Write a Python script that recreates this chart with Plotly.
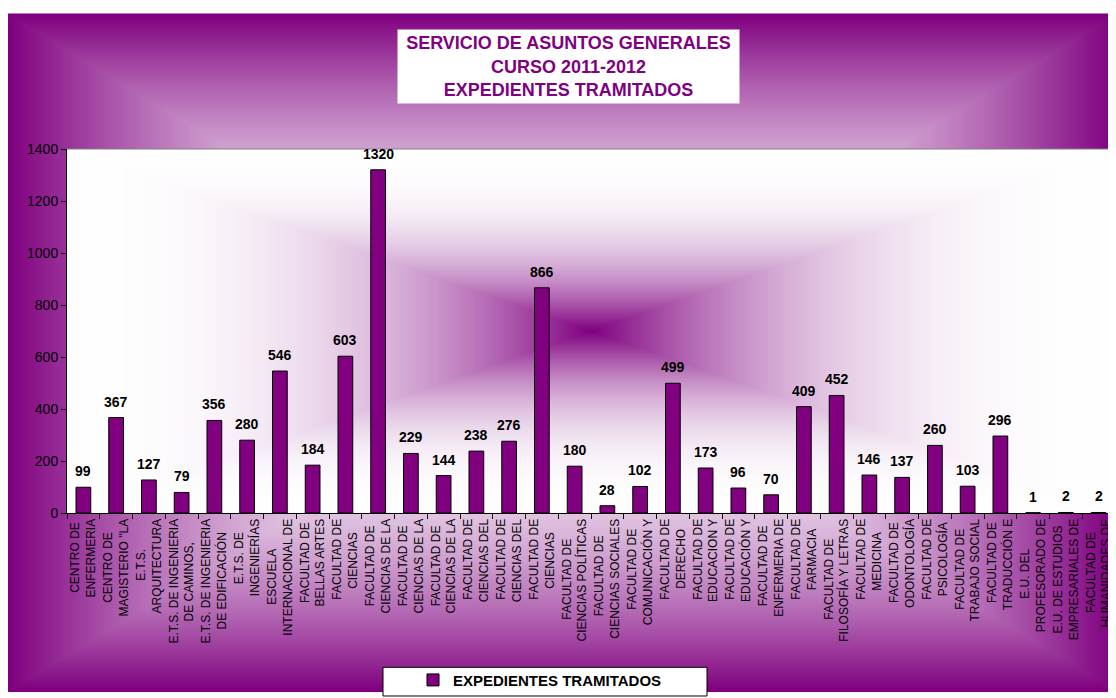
import base64
import struct
import zlib

import numpy as np
import plotly.graph_objects as go

categories = [
    'CENTRO DE<br>ENFERMERIA', 'CENTRO DE<br>MAGISTERIO "LA', 'E.T.S.<br>ARQUITECTURA',
    'E.T.S. DE INGENIERIA<br>DE CAMINOS,', 'E.T.S. DE INGENIERIA<br>DE EDIFICACIÓN',
    'E.T.S. DE<br>INGENIERÍAS', 'ESCUELA<br>INTERNACIONAL DE', 'FACULTAD DE<br>BELLAS ARTES',
    'FACULTAD DE<br>CIENCIAS', 'FACULTAD DE<br>CIENCIAS DE LA ', 'FACULTAD DE<br>CIENCIAS DE LA  ',
    'FACULTAD DE<br>CIENCIAS DE LA   ', 'FACULTAD DE<br>CIENCIAS DEL', 'FACULTAD DE<br>CIENCIAS DEL ',
    'FACULTAD DE<br>CIENCIAS ', 'FACULTAD DE<br>CIENCIAS POLÍTICAS', 'FACULTAD DE<br>CIENCIAS SOCIALES',
    'FACULTAD DE<br>COMUNICACIÓN Y', 'FACULTAD DE<br>DERECHO', 'FACULTAD DE<br>EDUCACION Y',
    'FACULTAD DE<br>EDUCACIÓN Y', 'FACULTAD DE<br>ENFERMERIA DE', 'FACULTAD DE<br>FARMACIA',
    'FACULTAD DE<br>FILOSOFÍA Y LETRAS', 'FACULTAD DE<br>MEDICINA', 'FACULTAD DE<br>ODONTOLOGÍA',
    'FACULTAD DE<br>PSICOLOGÍA', 'FACULTAD DE<br>TRABAJO SOCIAL', 'FACULTAD DE<br>TRADUCCIÓN E',
    'E.U. DEL<br>PROFESORADO DE', 'E.U. DE ESTUDIOS<br>EMPRESARIALES DE', 'FACULTAD DE<br>HUMANIDADES DE',
]
expedientes = [99, 367, 127, 79, 356, 280, 546, 184, 603, 1320, 229, 144, 238, 276, 866, 180,
               28, 102, 499, 173, 96, 70, 409, 452, 146, 137, 260, 103, 296, 1, 2, 2]

# page is drawn 8px in from the window corner (body margin)
W, H = 1108, 690
L, T, R, B = 59, 141, 1107, 509  # plot area in figure pixels
PW, PH = R - L, B - T
PURPLE = np.array([128, 0, 128], dtype=float)
WHITE = np.array([255, 255, 255], dtype=float)
FONT = "Arial, Liberation Sans, sans-serif"

# rough Arial widths (em) so that the shorter label line can be centred
CHAR_W = {'I': .278, 'Í': .278, 'J': .5, 'L': .556, 'M': .833, 'W': .944, 'C': .722, 'D': .722,
          'H': .722, 'N': .722, 'R': .722, 'U': .722, 'G': .778, 'O': .778, 'Ó': .778, 'Q': .778,
          'F': .611, 'T': .611, 'Z': .611, ' ': .278, '.': .278, ',': .278, '"': .355}


def text_w(s):
    return sum(CHAR_W.get(ch, .667) for ch in s)


def centred_label(label):
    lines = [ln.rstrip() for ln in label.split('<br>')]
    widest = max(text_w(ln) for ln in lines)
    out = []
    for ln in lines:
        pad = int(round((widest - text_w(ln)) / 2 / .278))
        out.append(ln + '\u00a0' * pad)
    return '<br>'.join(out)


def png_uri(rgb):
    h, w, _ = rgb.shape
    raw = b''.join(b'\x00' + rgb[i].tobytes() for i in range(h))

    def chunk(tag, data):
        return (struct.pack('>I', len(data)) + tag + data
                + struct.pack('>I', zlib.crc32(tag + data) & 0xffffffff))

    png = (b'\x89PNG\r\n\x1a\n'
           + chunk(b'IHDR', struct.pack('>IIBBBBB', w, h, 8, 2, 0, 0, 0))
           + chunk(b'IDAT', zlib.compress(raw, 9))
           + chunk(b'IEND', b''))
    return 'data:image/png;base64,' + base64.b64encode(png).decode()


def rect_gradient(w, h, weight):
    # "from centre" rectangular gradient, weight(t) = share of purple
    xs = np.abs(np.linspace(-1, 1, w))
    ys = np.abs(np.linspace(-1, 1, h))
    t = np.maximum(xs[None, :], ys[:, None])
    k = weight(t)[:, :, None]
    rgb = WHITE + (PURPLE - WHITE) * k
    return np.clip(rgb, 0, 255).astype(np.uint8)


outer_img = png_uri(rect_gradient(554, 343, lambda t: t ** 2))
inner_img = png_uri(rect_gradient(524, 184, lambda t: (1 - t) ** 2.5))


def px_x(x):
    return (x - L) / PW


def px_y(y):
    return (B - y) / PH


fig = go.Figure()
fig.add_trace(go.Bar(
    x=categories,
    y=expedientes,
    name='EXPEDIENTES TRAMITADOS',
    marker=dict(color='rgb(128,0,128)', line=dict(color='black', width=1)),
    hoverinfo='y',
))

annotations = [
    dict(x=c, y=v, text=str(v), showarrow=False, xref='x', yref='y',
         yanchor='bottom', yshift=6,
         font=dict(family=FONT, size=14, color='black', weight='bold'))
    for c, v in zip(categories, expedientes)
]
annotations.append(dict(
    text='SERVICIO DE ASUNTOS GENERALES<br>CURSO 2011-2012<br>EXPEDIENTES TRAMITADOS',
    x=px_x(560.5), y=px_y(57.5), xref='paper', yref='paper',
    xanchor='center', yanchor='middle', showarrow=False,
    width=339, height=71, bgcolor='white',
    font=dict(family=FONT, size=18, color='rgb(128,0,128)', weight='bold'),
))

fig.update_layout(
    width=W, height=H,
    margin=dict(l=L, r=W - R, t=T, b=H - B),
    paper_bgcolor='white',
    plot_bgcolor='rgba(0,0,0,0)',
    font=dict(family=FONT, color='black'),
    bargap=0.55,
    showlegend=True,
    legend=dict(orientation='h', x=px_x(405), xanchor='left', y=px_y(678), yanchor='middle',
                bgcolor='rgba(0,0,0,0)',
                font=dict(family=FONT, size=15, color='black', weight='bold')),
    annotations=annotations,
    images=[
        dict(source=outer_img, xref='paper', yref='paper', x=px_x(0), y=px_y(4),
             sizex=W / PW, sizey=(H - 4) / PH, sizing='stretch',
             xanchor='left', yanchor='top', layer='below'),
        dict(source=inner_img, xref='paper', yref='paper', x=0, y=1,
             sizex=1, sizey=1, sizing='stretch',
             xanchor='left', yanchor='top', layer='below'),
    ],
    shapes=[
        dict(type='rect', xref='paper', yref='paper', x0=px_x(375), x1=px_x(699),
             y0=px_y(665), y1=px_y(694), fillcolor='white',
             line=dict(color='black', width=1), layer='below'),
        dict(type='line', xref='paper', yref='paper', x0=0, x1=1, y0=1, y1=1,
             line=dict(color='rgb(128,128,128)', width=1)),
        dict(type='line', xref='paper', yref='paper', x0=1, x1=1, y0=0, y1=1,
             line=dict(color='rgb(128,128,128)', width=1)),
    ],
)
fig.update_xaxes(
    type='category', tickangle=-90, tickfont=dict(size=12, color='black'),
    tickvals=categories, ticktext=[centred_label(c) for c in categories],
    ticks='outside', tickson='boundaries', ticklen=5, tickcolor='black',
    showline=True, linecolor='black', linewidth=1, showgrid=False,
)
fig.update_yaxes(
    range=[0, 1400], dtick=200, tickfont=dict(size=14, color='black'),
    ticks='outside', ticklen=5, tickcolor='black',
    showline=True, linecolor='black', linewidth=1, showgrid=False, zeroline=False,
)

fig.write_html("out.html")
